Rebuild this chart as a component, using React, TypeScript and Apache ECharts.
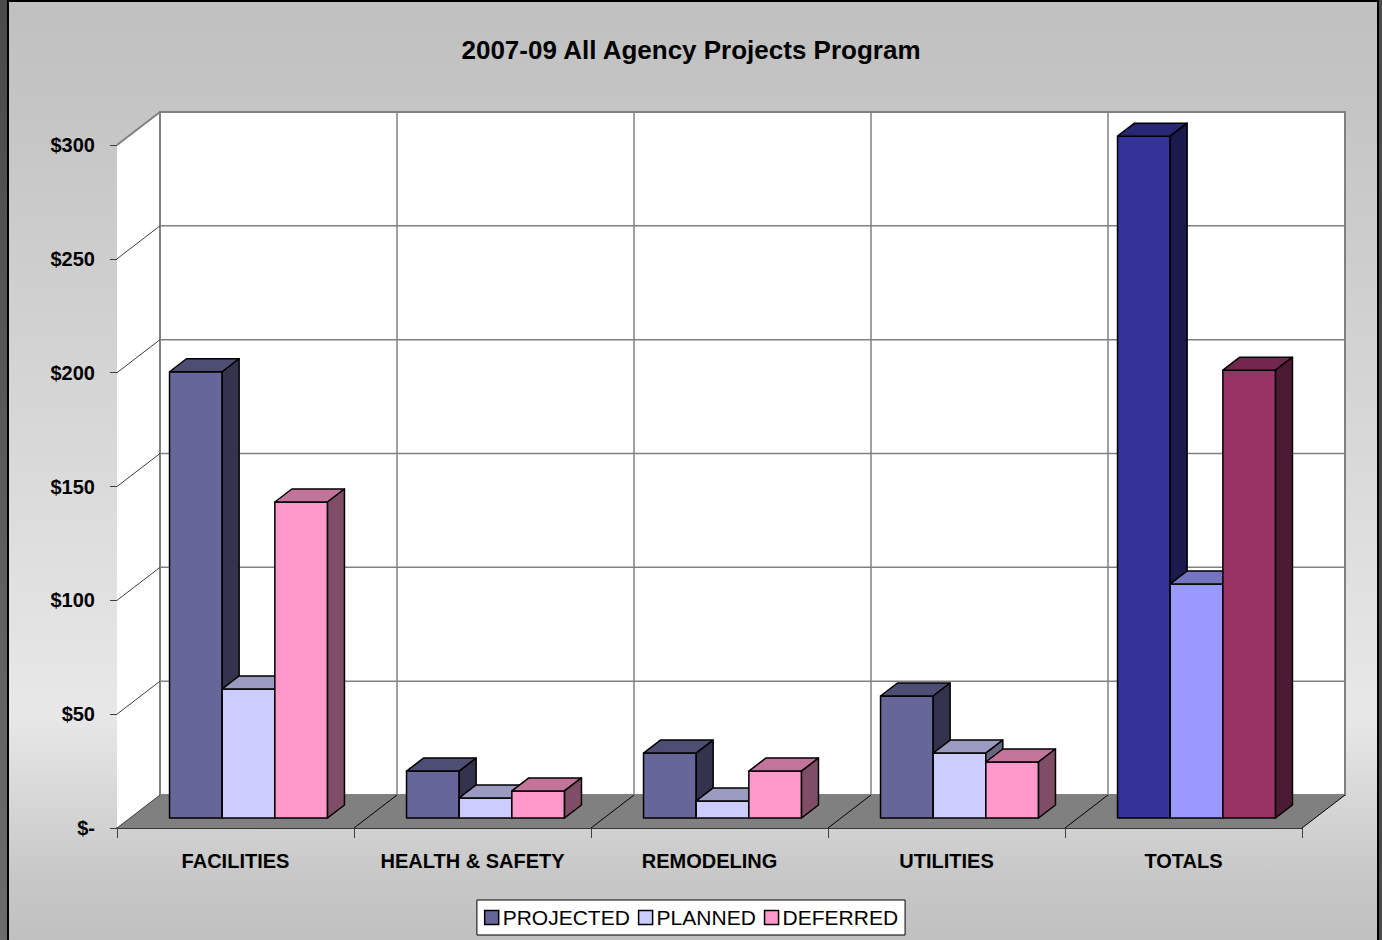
import React, { useEffect, useRef } from "react";
import * as echarts from "echarts";

const TITLE = "2007-09 All Agency Projects Program";
const CATEGORIES = ["FACILITIES", "HEALTH & SAFETY", "REMODELING", "UTILITIES", "TOTALS"];
const SERIES_NAMES = ["PROJECTED", "PLANNED", "DEFERRED"];
const PROJECTED = [196, 20.6, 28.5, 53.6, 299.5];
const PLANNED = [56.7, 8.8, 7.5, 28.5, 102.8];
const DEFERRED = [138.8, 11.9, 20.6, 24.6, 196.7];
const Y_MIN = 0;
const Y_MAX = 300;
const Y_INTERVAL = 50;

const BASE_COLORS = ["#666699", "#CCCCFF", "#FF99CC"];
const TOTAL_COLORS = ["#333399", "#9999FF", "#993366"];

const FONT = "'Liberation Sans', Arial, sans-serif";

// 3D geometry (pixels)
const DEPTH_X = 43;
const DEPTH_Y = -33;
const BAR_FRONT = 10 / 33; // fraction of depth where bar front face sits
const BAR_DEPTH = 13 / 33; // fraction of depth occupied by bar

function shade(hex: string, f: number): string {
  const n = parseInt(hex.slice(1), 16);
  const r = Math.round(((n >> 16) & 255) * f);
  const g = Math.round(((n >> 8) & 255) * f);
  const b = Math.round((n & 255) * f);
  return "rgb(" + r + "," + g + "," + b + ")";
}

function makeBarRender(s: number) {
  return (params: any, api: any) => {
    const idx = api.value(0);
    const val = api.value(1);
    const base = api.coord([idx, 0]);
    const top = api.coord([idx, val]);
    const band = api.size([1, 0])[0];
    const bw = band / 4.5;
    const fx = DEPTH_X * BAR_FRONT;
    const fy = DEPTH_Y * BAR_FRONT;
    const dx = DEPTH_X * BAR_DEPTH;
    const dy = DEPTH_Y * BAR_DEPTH;
    const x0 = base[0] - 1.5 * bw + s * bw + fx;
    const x1 = x0 + bw;
    const yb = base[1] + fy;
    const yt = top[1] + fy;
    const isTotal = idx === CATEGORIES.length - 1;
    const col = isTotal ? TOTAL_COLORS[s] : BASE_COLORS[s];
    const stroke = { stroke: "#000", lineWidth: 1.5, lineJoin: "round" };
    return {
      type: "group",
      children: [
        {
          type: "polygon",
          shape: { points: [[x0, yb], [x0, yt], [x1, yt], [x1, yb]] },
          style: { fill: col, ...stroke },
        },
        {
          type: "polygon",
          shape: { points: [[x0, yt], [x0 + dx, yt + dy], [x1 + dx, yt + dy], [x1, yt]] },
          style: { fill: shade(col, 0.76), ...stroke },
        },
        {
          type: "polygon",
          shape: { points: [[x1, yt], [x1 + dx, yt + dy], [x1 + dx, yb + dy], [x1, yb]] },
          style: { fill: shade(col, 0.5), ...stroke },
        },
      ],
    };
  };
}

function frameRender(params: any, api: any) {
  const band = api.size([1, 0])[0];
  const x0 = api.coord([0, Y_MIN])[0] - band / 2;
  const x1 = api.coord([CATEGORIES.length - 1, Y_MIN])[0] + band / 2;
  const y0 = api.coord([0, Y_MIN])[1];
  const yMax = api.coord([0, Y_MAX])[1];
  const children: any[] = [];
  children.push({
    type: "polygon",
    shape: { points: [[x0, y0], [x0, yMax], [x0 + DEPTH_X, yMax + DEPTH_Y], [x0 + DEPTH_X, y0 + DEPTH_Y]] },
    style: { fill: "#fff" },
  });
  children.push({
    type: "rect",
    shape: { x: x0 + DEPTH_X, y: yMax + DEPTH_Y, width: x1 - x0, height: y0 - yMax },
    style: { fill: "#fff", stroke: "#808080", lineWidth: 2 },
  });
  for (let v = Y_MIN + Y_INTERVAL; v <= Y_MAX; v += Y_INTERVAL) {
    const y = api.coord([0, v])[1];
    children.push({
      type: "line",
      shape: { x1: x0 + DEPTH_X, y1: y + DEPTH_Y, x2: x1 + DEPTH_X, y2: y + DEPTH_Y },
      style: { stroke: "#808080", lineWidth: 1.5 },
    });
    children.push({
      type: "line",
      shape: { x1: x0, y1: y, x2: x0 + DEPTH_X, y2: y + DEPTH_Y },
      style: { stroke: v === Y_MAX ? "#808080" : "#404040", lineWidth: v === Y_MAX ? 2 : 1 },
    });
  }
  for (let k = 1; k < CATEGORIES.length; k++) {
    const xk = x0 + k * band;
    children.push({
      type: "line",
      shape: { x1: xk + DEPTH_X, y1: yMax + DEPTH_Y, x2: xk + DEPTH_X, y2: y0 + DEPTH_Y },
      style: { stroke: "#808080", lineWidth: 1.5 },
    });
  }
  children.push({
    type: "polygon",
    shape: { points: [[x0, y0], [x1, y0], [x1 + DEPTH_X, y0 + DEPTH_Y], [x0 + DEPTH_X, y0 + DEPTH_Y]] },
    style: { fill: "#808080" },
  });
  children.push({
    type: "line",
    shape: { x1: x0, y1: y0, x2: x0 + DEPTH_X, y2: y0 + DEPTH_Y },
    style: { stroke: "#404040", lineWidth: 1 },
  });
  for (let k = 1; k <= CATEGORIES.length; k++) {
    const xk = x0 + k * band;
    children.push({
      type: "line",
      shape: { x1: xk, y1: y0, x2: xk + DEPTH_X, y2: y0 + DEPTH_Y },
      style: { stroke: "#000", lineWidth: 1 },
    });
  }
  return { type: "group", children };
}

export default function App() {
  const ref = useRef<HTMLDivElement>(null);
  useEffect(() => {
    if (!ref.current) return;
    const chart = echarts.init(ref.current, null, { renderer: "svg" });
    const values = [PROJECTED, PLANNED, DEFERRED];
    const option: any = {
      animation: false,
      backgroundColor: {
        type: "linear",
        x: 0, y: 0, x2: 0, y2: 1,
        colorStops: [
          { offset: 0, color: "#c0c0c0" },
          { offset: 0.1, color: "#c4c4c4" },
          { offset: 0.76, color: "#e8e8e8" },
          { offset: 0.93, color: "#c8c8c8" },
          { offset: 1, color: "#c0c0c0" },
        ],
      },
      title: {
        text: TITLE,
        left: "center",
        top: 32,
        textStyle: { fontFamily: FONT, fontWeight: "bold", fontSize: 26, color: "#000" },
      },
      legend: {
        data: SERIES_NAMES.map((n, i) => ({
          name: n,
          itemStyle: { color: BASE_COLORS[i], borderColor: "#000", borderWidth: 1.5 },
        })),
        left: "center",
        top: 900,
        icon: "rect",
        itemWidth: 14,
        itemHeight: 14,
        itemGap: 8,
        padding: [7, 7, 7, 7],
        backgroundColor: "#fff",
        borderColor: "#000",
        borderWidth: 1,
        borderRadius: 0,
        textStyle: { fontFamily: FONT, fontSize: 21, color: "#000", padding: [0, 0, 0, -1] },
        selectedMode: false,
      },
      grid: { left: 117, right: 80, top: 145, bottom: 112, containLabel: false },
      xAxis: {
        type: "category",
        data: CATEGORIES,
        boundaryGap: true,
        axisLine: { show: true, lineStyle: { color: "#000", width: 1.5 } },
        axisTick: { show: true, length: 10, lineStyle: { color: "#404040", width: 1 } },
        axisLabel: {
          interval: 0,
          fontFamily: FONT,
          fontWeight: "bold",
          fontSize: 20,
          color: "#000",
          margin: 23,
        },
        splitLine: { show: false },
      },
      yAxis: {
        type: "value",
        min: Y_MIN,
        max: Y_MAX,
        interval: Y_INTERVAL,
        axisLine: { show: true, lineStyle: { color: "#404040", width: 1 } },
        axisTick: { show: true, length: 7, lineStyle: { color: "#404040", width: 1 } },
        axisLabel: {
          fontFamily: FONT,
          fontWeight: "bold",
          fontSize: 20,
          color: "#000",
          margin: 22,
          formatter: (v: number) => (v === 0 ? "$-" : "$" + v),
        },
        splitLine: { show: false },
      },
      graphic: [
        {
          type: "rect",
          shape: { x: 0, y: 0, width: 7, height: 940 },
          style: {
            fill: {
              type: "linear", x: 0, y: 0, x2: 0, y2: 1,
              colorStops: [
                { offset: 0, color: "#4a4a4a" },
                { offset: 1, color: "#6c6c6c" },
              ],
            },
          },
          z: 100,
        },
        { type: "rect", shape: { x: 7, y: 0, width: 2, height: 940 }, style: { fill: "#000" }, z: 100 },
        { type: "rect", shape: { x: 7, y: 0, width: 1375, height: 2 }, style: { fill: "#000" }, z: 100 },
        { type: "rect", shape: { x: 1377, y: 0, width: 2, height: 940 }, style: { fill: "#000" }, z: 100 },
        { type: "rect", shape: { x: 1379, y: 0, width: 3, height: 940 }, style: { fill: "#4a4a4a" }, z: 100 },
      ],
      series: [
        {
          type: "custom",
          name: "frame",
          silent: true,
          z: 1,
          renderItem: frameRender,
          data: [[0, 0]],
          encode: { x: 0, y: 1 },
        },
        ...SERIES_NAMES.map((name, s) => ({
          type: "custom",
          name,
          silent: true,
          z: 2 + s,
          itemStyle: { color: BASE_COLORS[s], borderColor: "#000", borderWidth: 1.5 },
          renderItem: makeBarRender(s),
          data: values[s].map((v, i) => [i, v]),
          encode: { x: 0, y: 1 },
        })),
      ],
    };
    chart.setOption(option);
    return () => chart.dispose();
  }, []);
  return (
    <div
      ref={ref}
      style={{ position: "absolute", left: 0, top: 0, width: 1382, height: 940 }}
    />
  );
}
